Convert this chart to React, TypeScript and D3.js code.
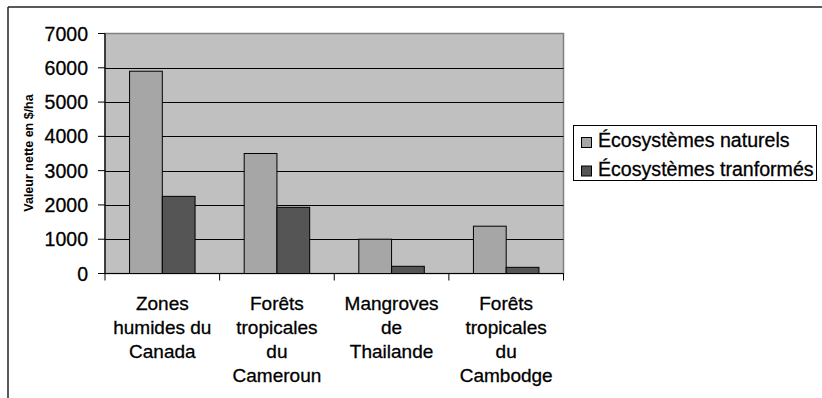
import React from "react";
import * as d3 from "d3";

const categories: string[][] = [
  ["Zones", "humides du", "Canada"],
  ["Forêts", "tropicales", "du", "Cameroun"],
  ["Mangroves", "de", "Thailande"],
  ["Forêts", "tropicales", "du", "Cambodge"],
];
const categoryKeys = ["canada", "cameroun", "thailande", "cambodge"];
const naturels = [5900, 3500, 1000, 1380];
const transformes = [2250, 1930, 210, 180];
const seriesNames = ["Écosystèmes naturels", "Écosystèmes tranformés"];
const yTicks = [0, 1000, 2000, 3000, 4000, 5000, 6000, 7000];
const yLabel = "Valeur nette en $/ha";

const W = 822;
const H = 398;
const plot = { left: 105, right: 563.5, top: 33.5, bottom: 273.5 };
const colors = ["#A6A6A6", "#555555"];
const FONT = "Liberation Sans, Arial, sans-serif";
const TS = { stroke: "#000", strokeWidth: 0.3 };

export default function App() {
  const x = d3
    .scaleBand<string>()
    .domain(categoryKeys)
    .range([plot.left, plot.right])
    .padding(0);
  const y = d3.scaleLinear().domain([0, 7000]).range([plot.bottom, plot.top]);
  const bw = x.bandwidth();
  const barW = bw / 3.5;
  const inner = d3
    .scaleBand<number>()
    .domain([0, 1])
    .range([barW * 0.75, barW * 2.75])
    .padding(0);
  const series = [naturels, transformes];
  const boundaries = categoryKeys.map((k) => x(k)!).concat([plot.right]);

  return (
    <svg
      width={W}
      height={H}
      style={{ position: "absolute", left: 0, top: 0, background: "#fff" }}
      fontFamily={FONT}
    >
      {/* outer frame (cropped) */}
      <line x1={8} y1={7} x2={W} y2={7} stroke="#222" strokeWidth={1.5} />
      <line x1={8} y1={7} x2={8} y2={H} stroke="#222" strokeWidth={1.5} />

      {/* plot background */}
      <rect
        x={plot.left}
        y={plot.top}
        width={plot.right - plot.left}
        height={plot.bottom - plot.top}
        fill="#C0C0C0"
        stroke="#808080"
        strokeWidth={1.5}
      />

      {/* gridlines */}
      {yTicks.slice(1, -1).map((t) => (
        <line
          key={t}
          x1={plot.left}
          x2={plot.right}
          y1={Math.round(y(t)) + 0.5}
          y2={Math.round(y(t)) + 0.5}
          stroke="#000"
          strokeWidth={1}
        />
      ))}

      {/* bars */}
      {categoryKeys.map((k, i) =>
        series.map((s, j) => (
          <rect
            key={k + j}
            x={x(k)! + inner(j)!}
            y={y(s[i])}
            width={inner.bandwidth()}
            height={plot.bottom - y(s[i])}
            fill={colors[j]}
            stroke="#000"
            strokeWidth={1}
          />
        ))
      )}

      {/* axes */}
      <line x1={plot.left} x2={plot.left} y1={plot.top} y2={plot.bottom} stroke="#000" strokeWidth={1.2} />
      <line x1={plot.left} x2={plot.right} y1={plot.bottom} y2={plot.bottom} stroke="#000" strokeWidth={1.2} />
      {yTicks.map((t) => (
        <g key={t}>
          <line x1={plot.left - 7} x2={plot.left} y1={y(t)} y2={y(t)} stroke="#000" strokeWidth={1} />
          <text x={88} y={y(t)} dy="0.36em" textAnchor="end" fontSize={19.5} fill="#000" {...TS}>
            {t}
          </text>
        </g>
      ))}
      {boundaries.map((b, i) => (
        <line key={i} x1={b} x2={b} y1={plot.bottom} y2={plot.bottom + 7} stroke="#000" strokeWidth={1} />
      ))}
      {categoryKeys.map((k, i) => (
        <text key={k} x={x(k)! + bw / 2} textAnchor="middle" fontSize={19} fill="#000" {...TS}>
          {categories[i].map((line, li) => (
            <tspan key={li} x={x(k)! + bw / 2} y={310 + li * 24}>
              {line}
            </tspan>
          ))}
        </text>
      ))}

      {/* y label */}
      <text
        transform={`translate(33,153) rotate(-90)`}
        textAnchor="middle"
        fontSize={12.5}
        fontWeight="bold"
        fill="#000"
      >
        {yLabel}
      </text>

      {/* legend */}
      <rect x={573.5} y={125.5} width={243} height={55} fill="#fff" stroke="#000" strokeWidth={1} />
      {seriesNames.map((n, j) => (
        <g key={n}>
          <rect x={581.5} y={137.5 + j * 28.5} width={10} height={10} fill={colors[j]} stroke="#000" strokeWidth={1} />
          <text x={598} y={147 + j * 28.5} fontSize={19.6} fill="#000" {...TS}>
            {n}
          </text>
        </g>
      ))}
    </svg>
  );
}
